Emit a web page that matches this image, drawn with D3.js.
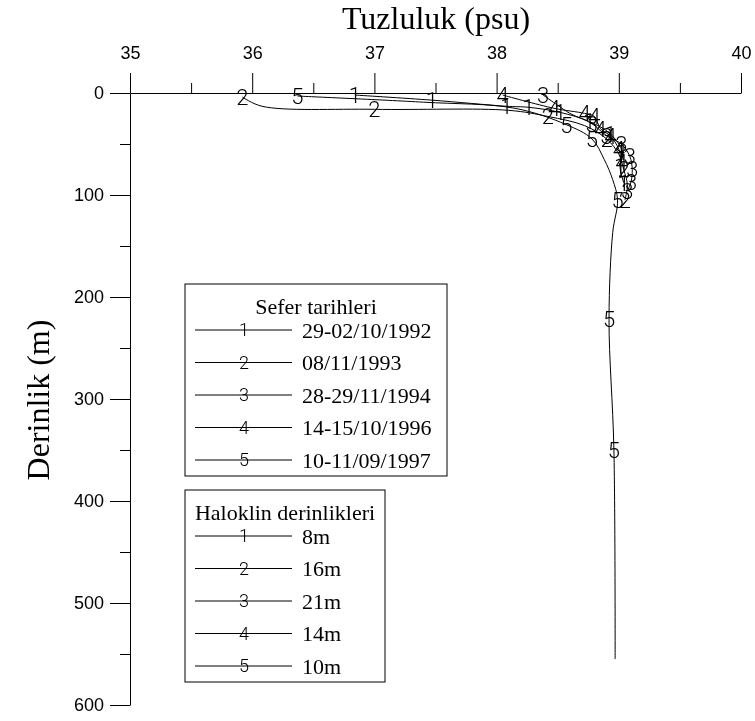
<!DOCTYPE html>
<html>
<head>
<meta charset="utf-8">
<script src="https://cdn.jsdelivr.net/npm/d3@7/dist/d3.min.js"></script>
<style>
  body { margin: 0; background: #fff; }
  svg { will-change: transform; }
  svg text { fill: #000; }
</style>
</head>
<body>
<svg id="chart" width="755" height="721"></svg>
<script>
// Legend texts
const cruiseDates = ["29-02/10/1992", "08/11/1993", "28-29/11/1994", "14-15/10/1996", "10-11/09/1997"];
const haloclineDepths = ["8m", "16m", "21m", "14m", "10m"];
const profileIds = ["1", "2", "3", "4", "5"];

// Axis ticks
const salinityTicks = [35, 36, 37, 38, 39, 40];
const salinityMinor = [35.5, 36.5, 37.5, 38.5, 39.5];
const depthTicks = [0, 100, 200, 300, 400, 500, 600];
const depthMinor = [50, 150, 250, 350, 450, 550];

// Salinity profiles: depth (m), salinity (psu), indices carrying a station mark
const depth1 = [2, 7, 13, 14, 19, 28, 40, 58, 72, 88];
const sal1   = [36.84, 37.47, 38.08, 38.26, 38.52, 38.76, 38.93, 39.03, 39.01, 39.04];
const mark1  = [0, 1, 2, 3, 4, 5, 6, 7, 8, 9];

const depth2 = [4, 13, 16, 17, 23, 32, 45, 60, 75, 90, 105];
const sal2   = [35.92, 36.08, 37.0, 38.1, 38.42, 38.72, 38.9, 39.0, 39.04, 39.07, 39.05];
const mark2  = [0, 2, 4, 6, 8, 10];

const depth3 = [2, 12, 20, 30, 42, 50, 62, 75, 87, 96];
const sal3   = [38.38, 38.5, 38.6, 38.78, 38.9, 39.02, 39.09, 39.11, 39.1, 39.07];
const mark3  = [0, 3, 4, 5, 6, 7, 8, 9];

const depth4 = [2, 15, 20, 23, 35, 42, 55, 68];
const sal4   = [38.05, 38.47, 38.72, 38.8, 38.85, 38.93, 39.0, 39.02];
const mark4  = [0, 1, 2, 3, 4, 5, 6, 7];

const depth5 = [3, 9, 15, 31, 45, 65, 85, 105, 137, 222, 350, 555];
const sal5   = [36.37, 37.4, 38.15, 38.57, 38.78, 38.88, 38.95, 38.99, 38.95, 38.92, 38.96, 38.97];
const mark5  = [0, 3, 4, 7, 9, 10];

const profiles = [
  { id: profileIds[0], depth: depth1, sal: sal1, marks: mark1 },
  { id: profileIds[1], depth: depth2, sal: sal2, marks: mark2 },
  { id: profileIds[2], depth: depth3, sal: sal3, marks: mark3 },
  { id: profileIds[3], depth: depth4, sal: sal4, marks: mark4 },
  { id: profileIds[4], depth: depth5, sal: sal5, marks: mark5 }
];

const svg = d3.select("#chart");
const serif = "'Liberation Serif', 'Times New Roman', serif";
const sans = "'Liberation Sans', Arial, sans-serif";
const markFont = "Roboto, 'Liberation Sans', sans-serif";

const x = d3.scaleLinear().domain([35, 40]).range([130, 741]);
const y = d3.scaleLinear().domain([0, 600]).range([93, 705]);

// Salinity axis along the surface
svg.append("g").attr("transform", `translate(0,${y(0)})`)
  .call(d3.axisTop(x).tickValues(salinityTicks).tickFormat(d3.format("d"))
    .tickSize(20).tickSizeOuter(0).tickPadding(14));
svg.append("g").attr("transform", `translate(0,${y(0)})`)
  .call(d3.axisTop(x).tickValues(salinityMinor).tickFormat("").tickSize(10).tickSizeOuter(0))
  .select(".domain").remove();

// Depth axis on the left
svg.append("g").attr("transform", `translate(${x(35)},0)`)
  .call(d3.axisLeft(y).tickValues(depthTicks).tickFormat(d3.format("d"))
    .tickSize(20).tickSizeOuter(0).tickPadding(6));
svg.append("g").attr("transform", `translate(${x(35)},0)`)
  .call(d3.axisLeft(y).tickValues(depthMinor).tickFormat("").tickSize(10).tickSizeOuter(0))
  .select(".domain").remove();

svg.selectAll(".tick text").attr("font-family", sans).attr("font-size", 18);
svg.selectAll(".domain, .tick line").attr("stroke", "#000").attr("stroke-width", 1);

// Axis titles
svg.append("text")
  .attr("x", 436).attr("y", 29)
  .attr("text-anchor", "middle")
  .attr("font-family", serif).attr("font-size", 32)
  .text("Tuzluluk (psu)");

svg.append("text")
  .attr("transform", `translate(49,400) rotate(-90)`)
  .attr("text-anchor", "middle")
  .attr("font-family", serif).attr("font-size", 32)
  .text("Derinlik (m)");

// Profiles
const line = d3.line()
  .x(d => x(d[1]))
  .y(d => y(d[0]))
  .curve(d3.curveCatmullRom.alpha(0.5));

const plot = svg.append("g");
profiles.forEach(p => {
  const pts = p.depth.map((d, i) => [d, p.sal[i]]);
  plot.append("path")
    .datum(pts)
    .attr("d", line)
    .attr("fill", "none")
    .attr("stroke", "#000")
    .attr("stroke-width", 1);
  plot.selectAll(null)
    .data(p.marks.map(i => pts[i]))
    .enter().append("text")
    .attr("x", d => x(d[1]))
    .attr("y", d => y(d[0]))
    .attr("dy", "0.36em")
    .attr("text-anchor", "middle")
    .attr("font-family", markFont)
    .attr("font-weight", 300)
    .attr("font-size", 22)
    .text(p.id);
});

// Legends
function legend(top, width, title, labels) {
  const g = svg.append("g");
  const rowGap = 32.5;
  const firstRow = 46;
  const height = firstRow + (labels.length - 1) * rowGap + 16;
  g.append("rect")
    .attr("x", 185).attr("y", top)
    .attr("width", width).attr("height", height)
    .attr("fill", "#fff").attr("stroke", "#000").attr("stroke-width", 1);
  g.append("text")
    .attr("x", 185 + width / 2).attr("y", top + 22)
    .attr("dy", "0.35em")
    .attr("text-anchor", "middle")
    .attr("font-family", serif).attr("font-size", 22)
    .text(title);
  labels.forEach((lab, i) => {
    const cy = top + firstRow + i * rowGap;
    g.append("line")
      .attr("x1", 195).attr("x2", 292)
      .attr("y1", cy).attr("y2", cy)
      .attr("stroke", "#000").attr("stroke-width", 1);
    g.append("text")
      .attr("x", 244).attr("y", cy).attr("dy", "0.36em")
      .attr("text-anchor", "middle")
      .attr("font-family", markFont).attr("font-weight", 300)
      .attr("font-size", 18)
      .text(profileIds[i]);
    g.append("text")
      .attr("x", 302).attr("y", cy).attr("dy", "0.35em")
      .attr("font-family", serif).attr("font-size", 22)
      .text(lab);
  });
}

legend(284, 262, "Sefer tarihleri", cruiseDates);
legend(490, 200, "Haloklin derinlikleri", haloclineDepths);
</script>
</body>
</html>
